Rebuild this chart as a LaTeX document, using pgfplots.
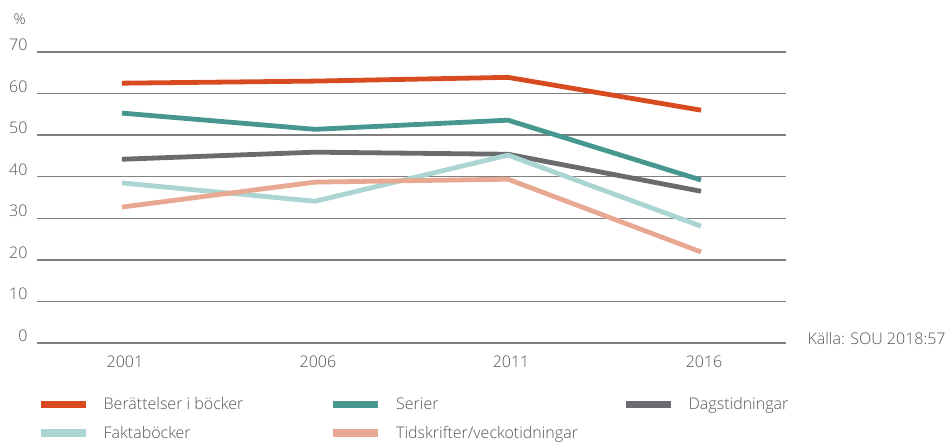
\documentclass[border=0pt]{standalone}
\usepackage{fontspec}
\setmainfont{Open Sans Light}
\usepackage{pgfplots}
\pgfplotsset{compat=1.18}
\definecolor{cRed}{HTML}{D84B20}
\definecolor{cTeal}{HTML}{46978F}
\definecolor{cGray}{HTML}{6B6B6F}
\definecolor{cLTeal}{HTML}{AAD5D2}
\definecolor{cSalmon}{HTML}{E8A892}
\definecolor{cGrid}{HTML}{808080}
\definecolor{cText}{HTML}{555555}
\begin{document}
\begin{tikzpicture}
\path[use as bounding box] (-37pt,-100pt) rectangle (910pt,343pt);
\begin{axis}[
  scale only axis, width=749pt, height=291pt,
  xmin=-0.44, xmax=3.44, ymin=0, ymax=70,
  axis line style={draw=none},
  xtick={0,1,2,3}, xticklabels={2001,2006,2011,2016},
  ytick={0,10,...,70},
  major tick length=0pt,
  ymajorgrids, grid style={draw=cGrid, line width=1.3pt},
  tick label style={font=\fontsize{16}{18}\selectfont, text=cText},
  yticklabel style={anchor=base east, xshift=-6pt, yshift=1.5pt},
  xticklabel style={anchor=base, yshift=-25pt, xshift=3pt},
  /pgf/number format/assume math mode=true,
  clip=false,
  legend columns=3,
  legend style={draw=none, at={(0,-0.18)}, anchor=north west,
    font=\fontsize{16}{18}\selectfont, text=cText,
    row sep=11pt, inner sep=0pt,
    /tikz/every even column/.append style={column sep=0pt},
    cells={anchor=west}},
  legend image code/.code={\draw[line width=7.5pt] (0pt,0pt) -- (45pt,0pt);},
  every axis plot/.append style={line width=4.8pt, line cap=butt, line join=round},
]
\addplot[cRed] coordinates {(0,62.5) (1,63.0) (2,63.9) (3,56.0)};
\addlegendentry{\makebox[236pt][l]{\hspace{12pt}Berättelser i böcker}}
\addplot[cTeal] coordinates {(0,55.3) (1,51.4) (2,53.6) (3,39.2)};
\addlegendentry{\makebox[236pt][l]{\hspace{12pt}Serier}}
\addplot[cGray] coordinates {(0,44.2) (1,45.9) (2,45.4) (3,36.5)};
\addlegendentry{\makebox[150pt][l]{\hspace{12pt}Dagstidningar}}
\addplot[cLTeal] coordinates {(0,38.5) (1,34.1) (2,45.2) (3,28.1)};
\addlegendentry{\makebox[236pt][l]{\hspace{12pt}Faktaböcker}}
\addplot[cSalmon] coordinates {(0,32.7) (1,38.7) (2,39.4) (3,21.9)};
\addlegendentry{\makebox[236pt][l]{\hspace{12pt}Tidskrifter/veckotidningar}}
\node[anchor=base west, font=\fontsize{16}{18}\selectfont, text=cText] at (rel axis cs:1,0) [xshift=18pt, yshift=-2pt] {Källa: SOU 2018:57};
\node[anchor=base west, font=\fontsize{15}{17}\selectfont, text=cText] at (rel axis cs:0,1) [xshift=-27pt, yshift=27pt] {\%};
\end{axis}
\end{tikzpicture}
\end{document}
